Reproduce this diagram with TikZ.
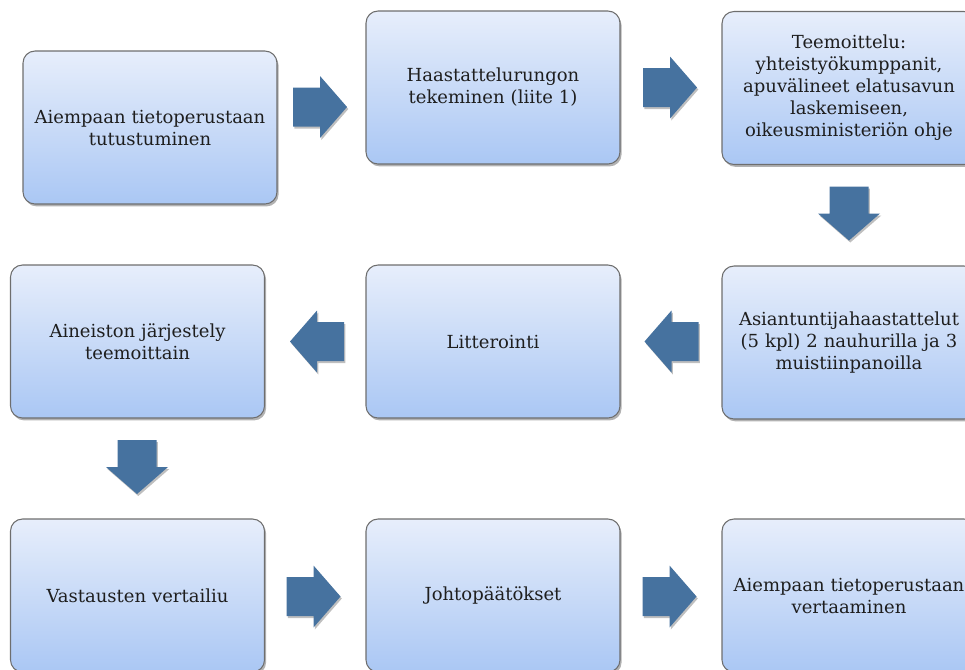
\documentclass[tikz,border=0pt]{standalone}
\usepackage{fontspec}
\setmainfont{DejaVu Serif}
\usetikzlibrary{shadows}
\definecolor{boxtop}{HTML}{E7EEFB}
\definecolor{boxbot}{HTML}{AAC7F4}
\definecolor{boxline}{HTML}{6E6E6E}
\definecolor{arrowblue}{HTML}{46729F}
\definecolor{txt}{HTML}{1E1E1E}
\tikzset{
  stepbox/.style={draw=boxline, line width=0.8pt, rounded corners=9pt,
    top color=boxtop, bottom color=boxbot,
    minimum width=190.5pt, minimum height=114.75pt,
    text width=182pt, align=center, text=txt,
    font=\fontsize{13.5pt}{16.5pt}\selectfont,
    drop shadow={shadow xshift=1.2pt, shadow yshift=-1.8pt, opacity=0.3, fill=black}},
  blk/.pic={\fill[arrowblue, drop shadow={shadow xshift=1pt, shadow yshift=-1.5pt, opacity=0.25, fill=black}]
    (-27,-19.5) -- (0,-19.5) -- (0,-31) -- (27,0) -- (0,31) -- (0,19.5) -- (-27,19.5) -- cycle;}
}
\begin{document}
\begin{tikzpicture}[x=0.75pt, y=-0.75pt]
\useasboundingbox (0,0) rectangle (965,669);
\node[stepbox] (b1) at (150,127.5) {Aiempaan tietoperustaan\\tutustuminen};
\node[stepbox] (b2) at (493,87.5) {Haastattelurungon\\tekeminen (liite 1)};
\node[stepbox] (b3) at (849,88) {Teemoittelu:\\yhteistyökumppanit,\\apuvälineet elatusavun\\laskemiseen,\\oikeusministeriön ohje};
\node[stepbox] (b4) at (849,342.5) {Asiantuntijahaastattelut\\(5 kpl) 2 nauhurilla ja 3\\muistiinpanoilla};
\node[stepbox] (b5) at (493,341.5) {Litterointi};
\node[stepbox] (b6) at (137.5,341.5) {Aineiston järjestely\\teemoittain};
\node[stepbox] (b7) at (137.5,595.5) {Vastausten vertailiu};
\node[stepbox] (b8) at (493,595.5) {Johtopäätökset};
\node[stepbox] (b9) at (849,595.5) {Aiempaan tietoperustaan\\vertaaminen};
\pic (a1) at (320,107) {blk};
\pic (a2) at (670,87.5) {blk};
\pic[rotate=-90] (a3) at (849,213.5) {blk};
\pic[rotate=180] (a4) at (671.5,341.5) {blk};
\pic[rotate=180] (a5) at (317,341.5) {blk};
\pic[rotate=-90] (a6) at (137,467) {blk};
\pic (a7) at (313.5,596.5) {blk};
\pic (a8) at (669.5,596.5) {blk};
\end{tikzpicture}
\end{document}
